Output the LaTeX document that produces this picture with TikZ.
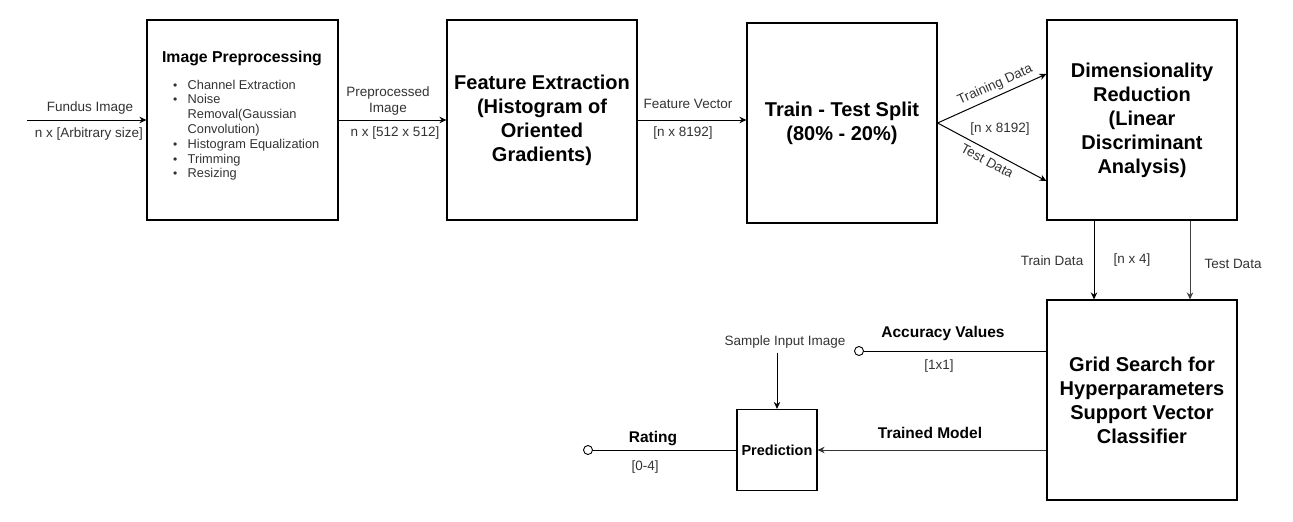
\documentclass[tikz,border=0pt]{standalone}
\usepackage{fontspec}
\setmainfont{Liberation Sans}
\usetikzlibrary{arrows.meta}
\definecolor{labelgray}{RGB}{51,51,51}
\begin{document}
\begin{tikzpicture}[x=1pt,y=-1pt,
  box/.style={draw, line width=1.2pt, inner sep=0pt, align=center, text=black,
    font=\fontsize{20}{24}\selectfont\bfseries},
  arr/.style={line width=1pt, -{Stealth[length=7pt,width=6.5pt]}},
  conn/.style={line width=1pt},
  lbl/.style={font=\fontsize{13.5}{16}\selectfont, text=labelgray, inner sep=0pt, anchor=base},
  blbl/.style={font=\fontsize{15.5}{18}\selectfont\bfseries, text=black, inner sep=0pt, anchor=base},
  slbl/.style={font=\fontsize{13.5}{16}\selectfont, text=labelgray, inner sep=1pt, sloped},
  port/.style={circle, draw, fill=white, line width=0.9pt, minimum size=9pt, inner sep=0pt},
  bul/.style={}
]
\useasboundingbox (0,0) rectangle (1293,522);

% boxes
\node[box, minimum width=191pt, minimum height=200pt] (pre) at (242.5,120) {};
\node[box, minimum width=190pt, minimum height=200pt] (fe) at (542,120)
  {Feature Extraction\\(Histogram of\\Oriented\\Gradients)};
\node[box, minimum width=190pt, minimum height=200pt] (tts) at (842,123)
  {Train - Test Split\\(80\% - 20\%)};
\node[box, minimum width=190pt, minimum height=200pt] (dr) at (1142,120)
  {Dimensionality\\Reduction\\(Linear\\Discriminant\\Analysis)};
\node[box, minimum width=190pt, minimum height=200pt] (gs) at (1142,400)
  {Grid Search for\\Hyperparameters\\Support Vector\\Classifier};
\node[box, minimum width=80pt, minimum height=81pt, font=\fontsize{14.5}{17}\selectfont\bfseries] (pred) at (777,450)
  {Prediction};

% preprocessing contents
\newcommand{\mybul}{\makebox[14pt][l]{\hspace{-0.5pt}\fontsize{12}{12}\selectfont\textbullet}}
\node[blbl, font=\fontsize{15.8}{18}\selectfont\bfseries] (pretitle) at (242,62.5) {Image Preprocessing};
\node[inner sep=0pt, anchor=north west, text=labelgray,
  font=\fontsize{12.8}{14.8}\selectfont] (prelist) at (173.5,78.6)
  {\begin{tabular}{@{}l@{}l@{}}
   \mybul & Channel Extraction\\
   \mybul & Noise\\
    & Removal(Gaussian\\
    & Convolution)\\
   \mybul & Histogram Equalization\\
   \mybul & Trimming\\
   \mybul & Resizing
   \end{tabular}};

% input arrow
\coordinate (fin) at (27,120);
\draw[arr] (fin) -- (pre);
\node[lbl] (lfundus) at (90,111) {Fundus Image};
\node[lbl] (lfundsz) at (89,137) {n x [Arbitrary size]};

% pre -> fe
\draw[arr] (pre) -- (fe);
\node[lbl, anchor=center, align=center] (lprep) at (388,101.5) {Preprocessed\\Image};
\node[lbl] (lprepsz) at (395,136) {n x [512 x 512]};

% fe -> tts
\draw[arr] (fe.east) -- (tts.west |- fe.east);
\node[lbl] (lfv) at (688,108) {Feature Vector};
\node[lbl] (lfvsz) at (683,136) {[n x 8192]};

% tts -> dr
\draw[arr] (tts.east) -- node[slbl, pos=0.57, above=3pt] (ltrain) {Training Data} ([yshift=46pt]dr.west);
\draw[arr] (tts.east) -- node[slbl, pos=0.5, below=4pt] (ltest) {Test Data} ([yshift=-61pt]dr.west);
\node[lbl] (ltsz) at (1000,132) {[n x 8192]};

% dr -> gs
\draw[arr] ([xshift=-48pt]dr.south) -- ([xshift=-48pt]gs.north);
\draw[arr, draw=black!75] ([xshift=48pt]dr.south) -- ([xshift=48pt]gs.north);
\node[lbl] (ltd) at (1052,265.5) {Train Data};
\node[lbl] (ln4) at (1132,263) {[n x 4]};
\node[lbl] (lted) at (1233,268) {Test Data};

% gs -> accuracy
\node[port] (acc) at (859,351) {};
\draw[conn] ([yshift=49pt]gs.west) -- (acc);
\node[blbl] (lacc) at (943,337.5) {Accuracy Values};
\node[lbl] (l11) at (939,369) {[1x1]};

% gs -> prediction
\draw[arr, draw=black!80] ([yshift=-50pt]gs.west) -- (pred.east);
\node[blbl] (ltm) at (930,438.5) {Trained Model};

% sample input
\node[lbl] (lsii) at (785,345.5) {Sample Input Image};
\draw[arr] (lsii.south -| pred.north) ++(0,4) -- (pred.north);

% prediction -> rating
\node[port] (rout) at (588,450) {};
\draw[conn] (pred.west) -- (rout);
\node[blbl] (lrat) at (653,442.5) {Rating};
\node[lbl] (l04) at (645,470.5) {[0-4]};
\end{tikzpicture}
\end{document}
